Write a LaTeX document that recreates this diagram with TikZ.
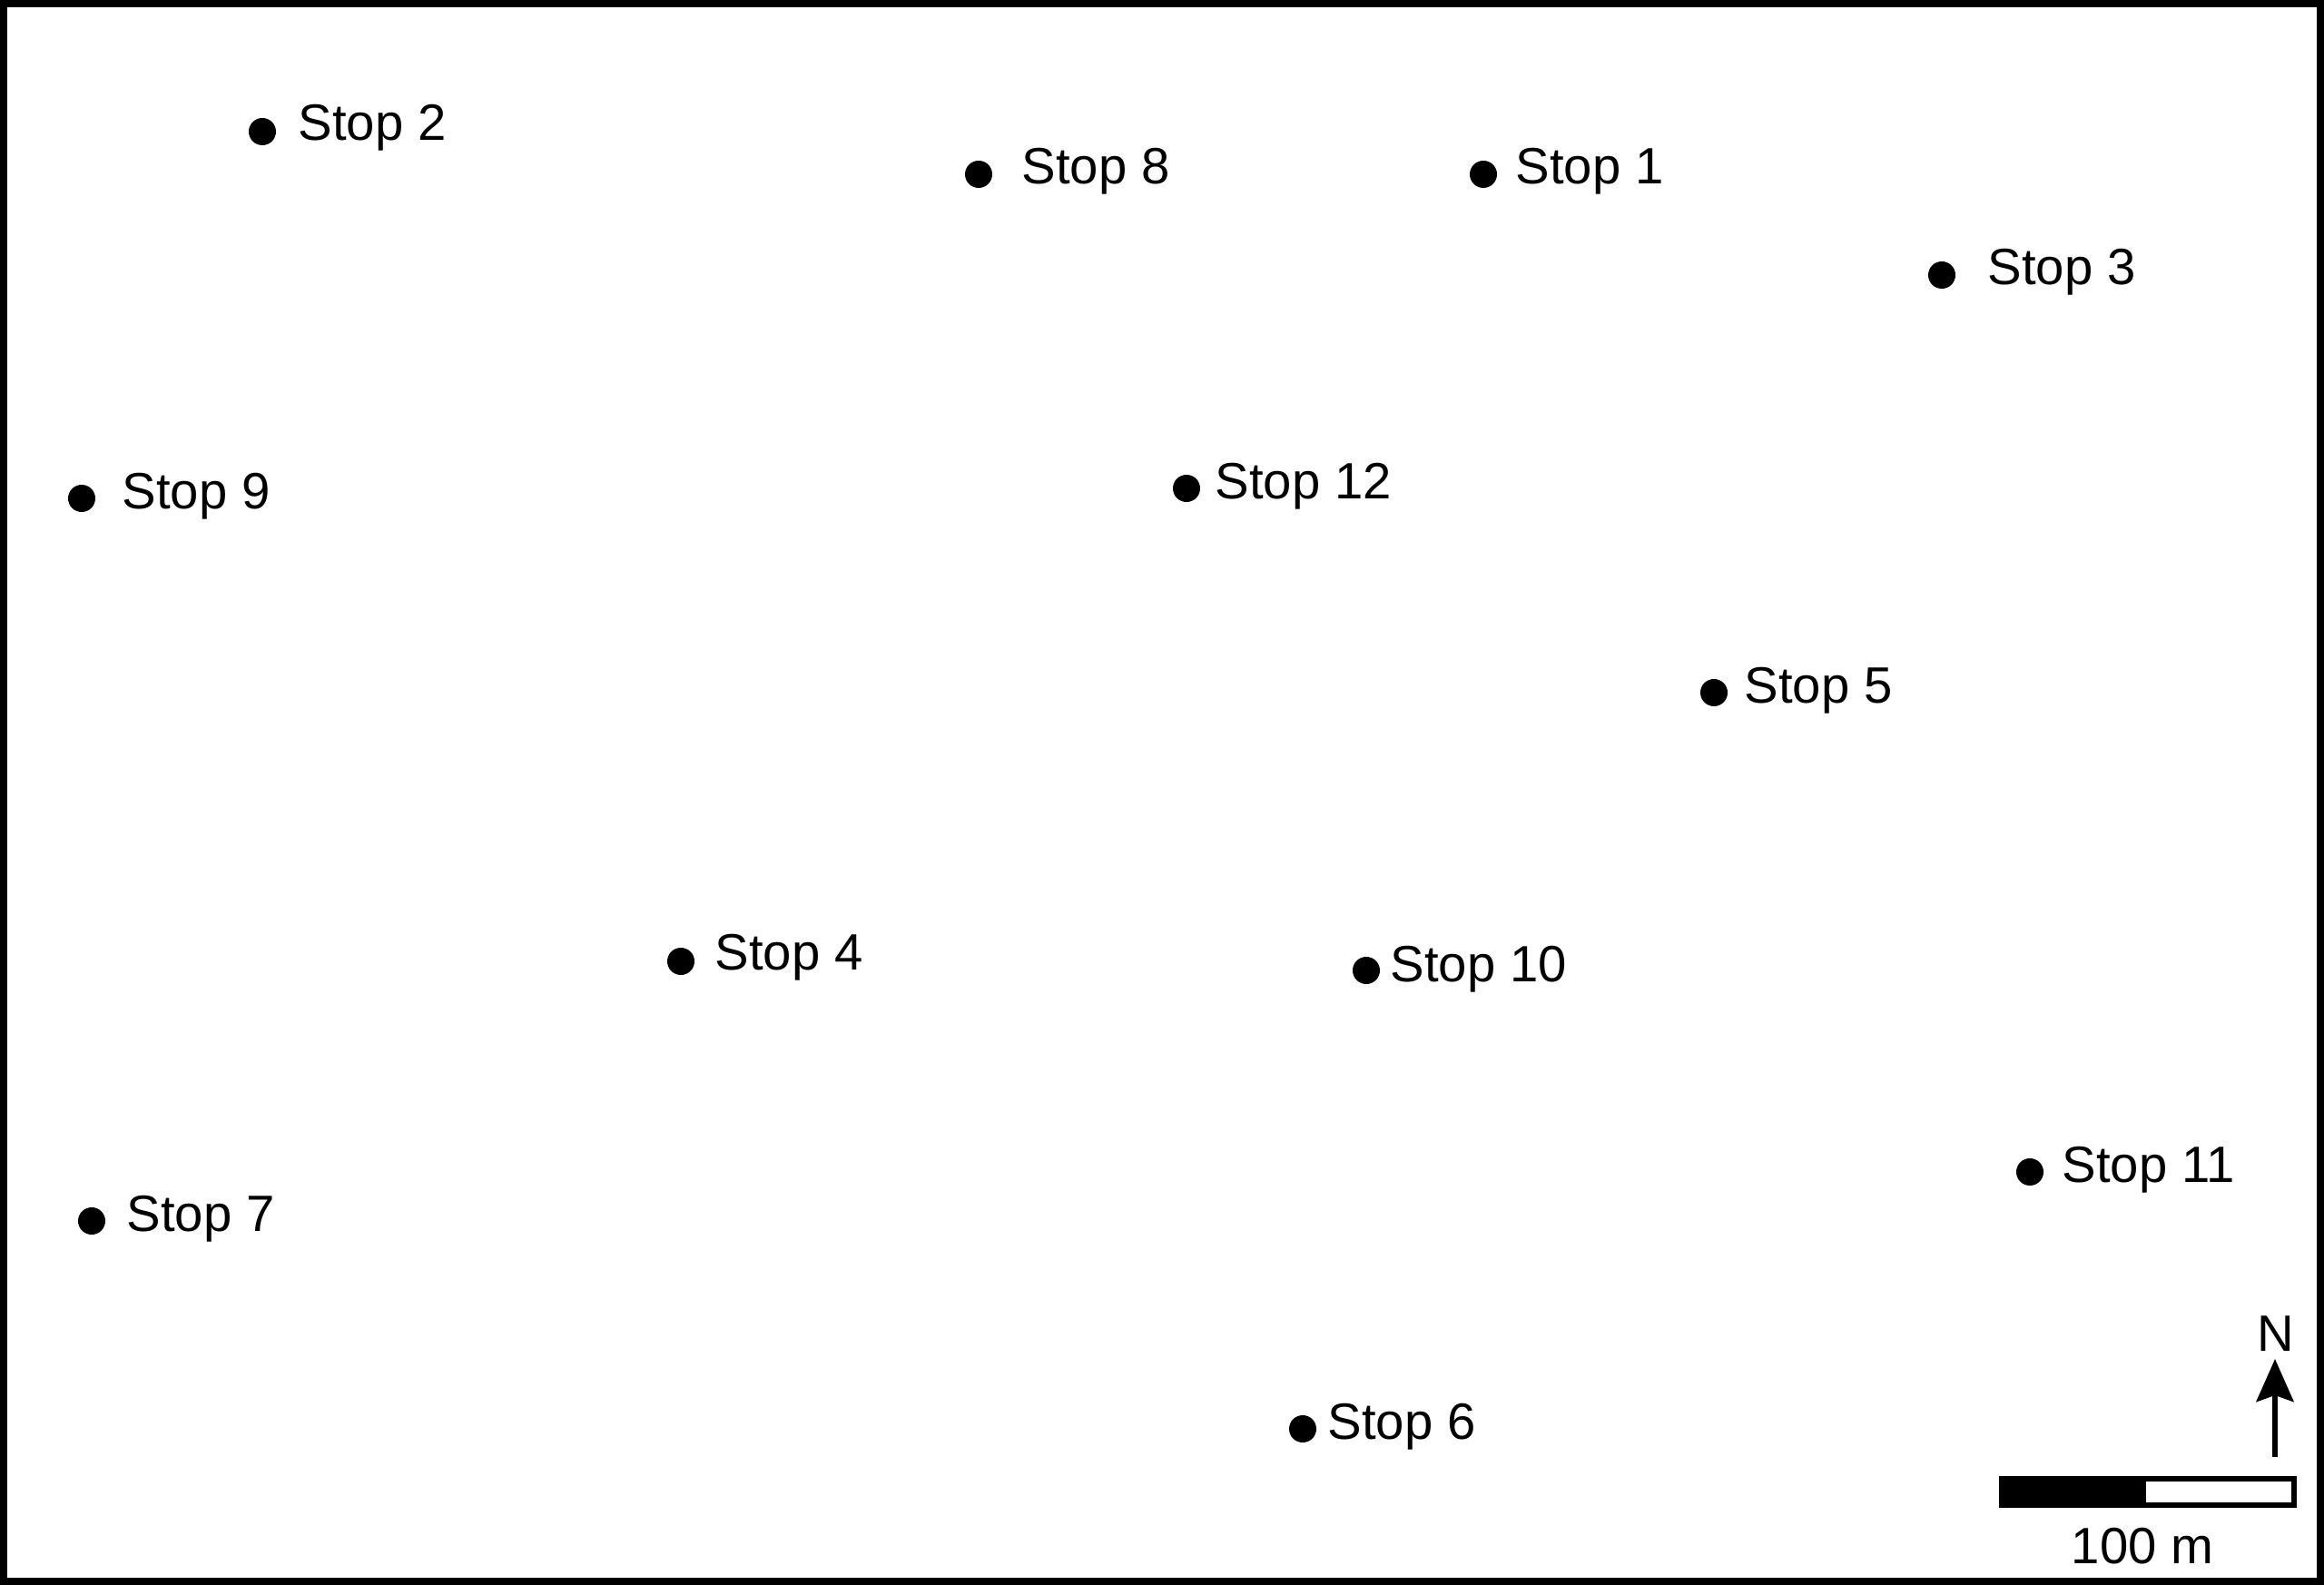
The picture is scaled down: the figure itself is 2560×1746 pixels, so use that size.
\documentclass[tikz,border=0pt]{standalone}
\usepackage{fontspec}
\setmainfont{Liberation Sans}
\usetikzlibrary{arrows.meta}
\tikzset{
  stopdot/.style={circle,fill=black,inner sep=0pt,minimum size=0.30cm},
  stoplabel/.style={anchor=base west,inner sep=0pt,font=\fontsize{16}{19}\selectfont},
  maplabel/.style={anchor=base,inner sep=0pt,font=\fontsize{16}{19}\selectfont}
}

\begin{document}
\begin{tikzpicture}[x=0.01cm,y=-0.01cm]
  \useasboundingbox (0,0) rectangle (2560,1746);
  % map frame
  \draw[line width=0.085cm] (4,4) rectangle (2556,1742);
  % stops
  \node[stopdot] (stop1) at (1634,192) {};
  \node[stoplabel] (label1) at (1669,203) {Stop 1};
  \node[stopdot] (stop2) at (289,145) {};
  \node[stoplabel] (label2) at (328,155) {Stop 2};
  \node[stopdot] (stop3) at (2139,303) {};
  \node[stoplabel] (label3) at (2189,314) {Stop 3};
  \node[stopdot] (stop4) at (750,1059) {};
  \node[stoplabel] (label4) at (787,1068) {Stop 4};
  \node[stopdot] (stop5) at (1888,763) {};
  \node[stoplabel] (label5) at (1921,775) {Stop 5};
  \node[stopdot] (stop6) at (1435,1574) {};
  \node[stoplabel] (label6) at (1462,1585) {Stop 6};
  \node[stopdot] (stop7) at (101,1345) {};
  \node[stoplabel] (label7) at (139,1356) {Stop 7};
  \node[stopdot] (stop8) at (1078,192) {};
  \node[stoplabel] (label8) at (1125,203) {Stop 8};
  \node[stopdot] (stop9) at (90,549) {};
  \node[stoplabel] (label9) at (134,561) {Stop 9};
  \node[stopdot] (stop10) at (1505,1069) {};
  \node[stoplabel] (label10) at (1531,1081) {Stop 10};
  \node[stopdot] (stop11) at (2236,1291) {};
  \node[stoplabel] (label11) at (2271,1302) {Stop 11};
  \node[stopdot] (stop12) at (1307,538) {};
  \node[stoplabel] (label12) at (1338,550) {Stop 12};
  % north arrow
  \node[maplabel] (north) at (2507,1488) {N};
  \coordinate (arrowfoot) at (2506,1605);
  \coordinate (arrowtip) at (2506,1497);
  \draw[-{Stealth[length=0.47cm,width=0.41cm,inset=0.07cm]},line width=0.06cm] (arrowfoot) -- (arrowtip);
  % scale bar
  \draw[line width=0.065cm] (2205,1629) rectangle (2527,1658);
  \fill (2202,1626) rectangle (2364,1661);
  \node[maplabel] (scale) at (2360,1722) {100 m};
\end{tikzpicture}
\end{document}
